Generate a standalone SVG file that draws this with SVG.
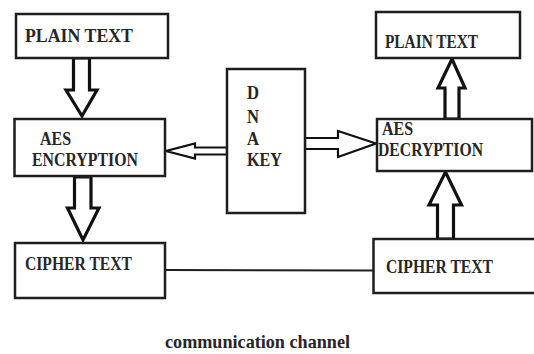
<svg xmlns="http://www.w3.org/2000/svg" width="534" height="354" viewBox="0 0 534 354">
<style>
.box{fill:#fff;stroke:#1e1e1e;stroke-width:2.5}
.t{font-family:"Liberation Serif","Times New Roman",serif;font-weight:bold;font-size:19px;fill:#262626}
.bar{fill:#fff;stroke:#111;stroke-width:3.2;stroke-linejoin:miter}
.thin{fill:#fff;stroke:#111;stroke-width:2.2;stroke-linejoin:miter}
.ln{stroke:#1e1e1e;stroke-width:2;fill:none}
</style>
<rect width="534" height="354" fill="#fff"/>
<g id="connectors">
<polygon class="bar" points="73.5,58 89.5,58 89.5,90 97,90 82,116 66,90 73.5,90"/>
<polygon class="bar" points="74.5,177 91,177 91,208 99,208 83,240 67.5,208 74.5,208"/>
<polygon class="thin" points="227,147.5 195,147.5 195,143.5 166,151 195,158.5 195,154.5 227,154.5"/>
<polygon class="thin" points="305,138 338,138 338,131 376,143.5 338,157 338,149 305,149"/>
<polygon class="bar" points="445,119 459,119 459,88 465,88 452,59 438,88 445,88"/>
<polygon class="bar" points="437.5,239 453.5,239 453.5,205 461.5,205 445.5,172 429,205 437.5,205"/>
<line class="ln" x1="165" y1="270" x2="373" y2="270.5"/>
</g>
<g id="plain-left">
<rect class="box" x="16" y="14" width="152" height="44"/>
<text class="t" x="25" y="42" textLength="108" lengthAdjust="spacingAndGlyphs">PLAIN TEXT</text>
</g>
<g id="aes-enc">
<rect class="box" x="14.5" y="119" width="150.5" height="57"/>
<text class="t" x="40" y="145" textLength="31" lengthAdjust="spacingAndGlyphs">AES</text>
<text class="t" x="32" y="166" textLength="106" lengthAdjust="spacingAndGlyphs">ENCRYPTION</text>
</g>
<g id="cipher-left">
<rect class="box" x="15" y="243" width="150" height="55"/>
<text class="t" x="25" y="270" textLength="107" lengthAdjust="spacingAndGlyphs">CIPHER TEXT</text>
</g>
<g id="dna-key">
<rect class="box" x="227" y="69" width="78" height="144"/>
<text class="t" x="247" y="99" textLength="12" lengthAdjust="spacingAndGlyphs">D</text>
<text class="t" x="247" y="123" textLength="12" lengthAdjust="spacingAndGlyphs">N</text>
<text class="t" x="247" y="145" textLength="12" lengthAdjust="spacingAndGlyphs">A</text>
<text class="t" x="247" y="166" textLength="35" lengthAdjust="spacingAndGlyphs">KEY</text>
</g>
<g id="plain-right">
<rect class="box" x="376" y="12" width="144" height="46"/>
<text class="t" x="385" y="48" font-size="17" textLength="93" lengthAdjust="spacingAndGlyphs">PLAIN TEXT</text>
</g>
<g id="aes-dec">
<rect class="box" x="377" y="119" width="155" height="52"/>
<text class="t" x="382" y="135" textLength="31" lengthAdjust="spacingAndGlyphs">AES</text>
<text class="t" x="378" y="156" textLength="105" lengthAdjust="spacingAndGlyphs">DECRYPTION</text>
</g>
<g id="cipher-right">
<rect class="box" x="373.5" y="239" width="170" height="54"/>
<text class="t" x="386" y="273" textLength="107" lengthAdjust="spacingAndGlyphs">CIPHER TEXT</text>
</g>
<text class="t" x="165" y="348" font-size="18" textLength="185" lengthAdjust="spacingAndGlyphs">communication channel</text>
</svg>
